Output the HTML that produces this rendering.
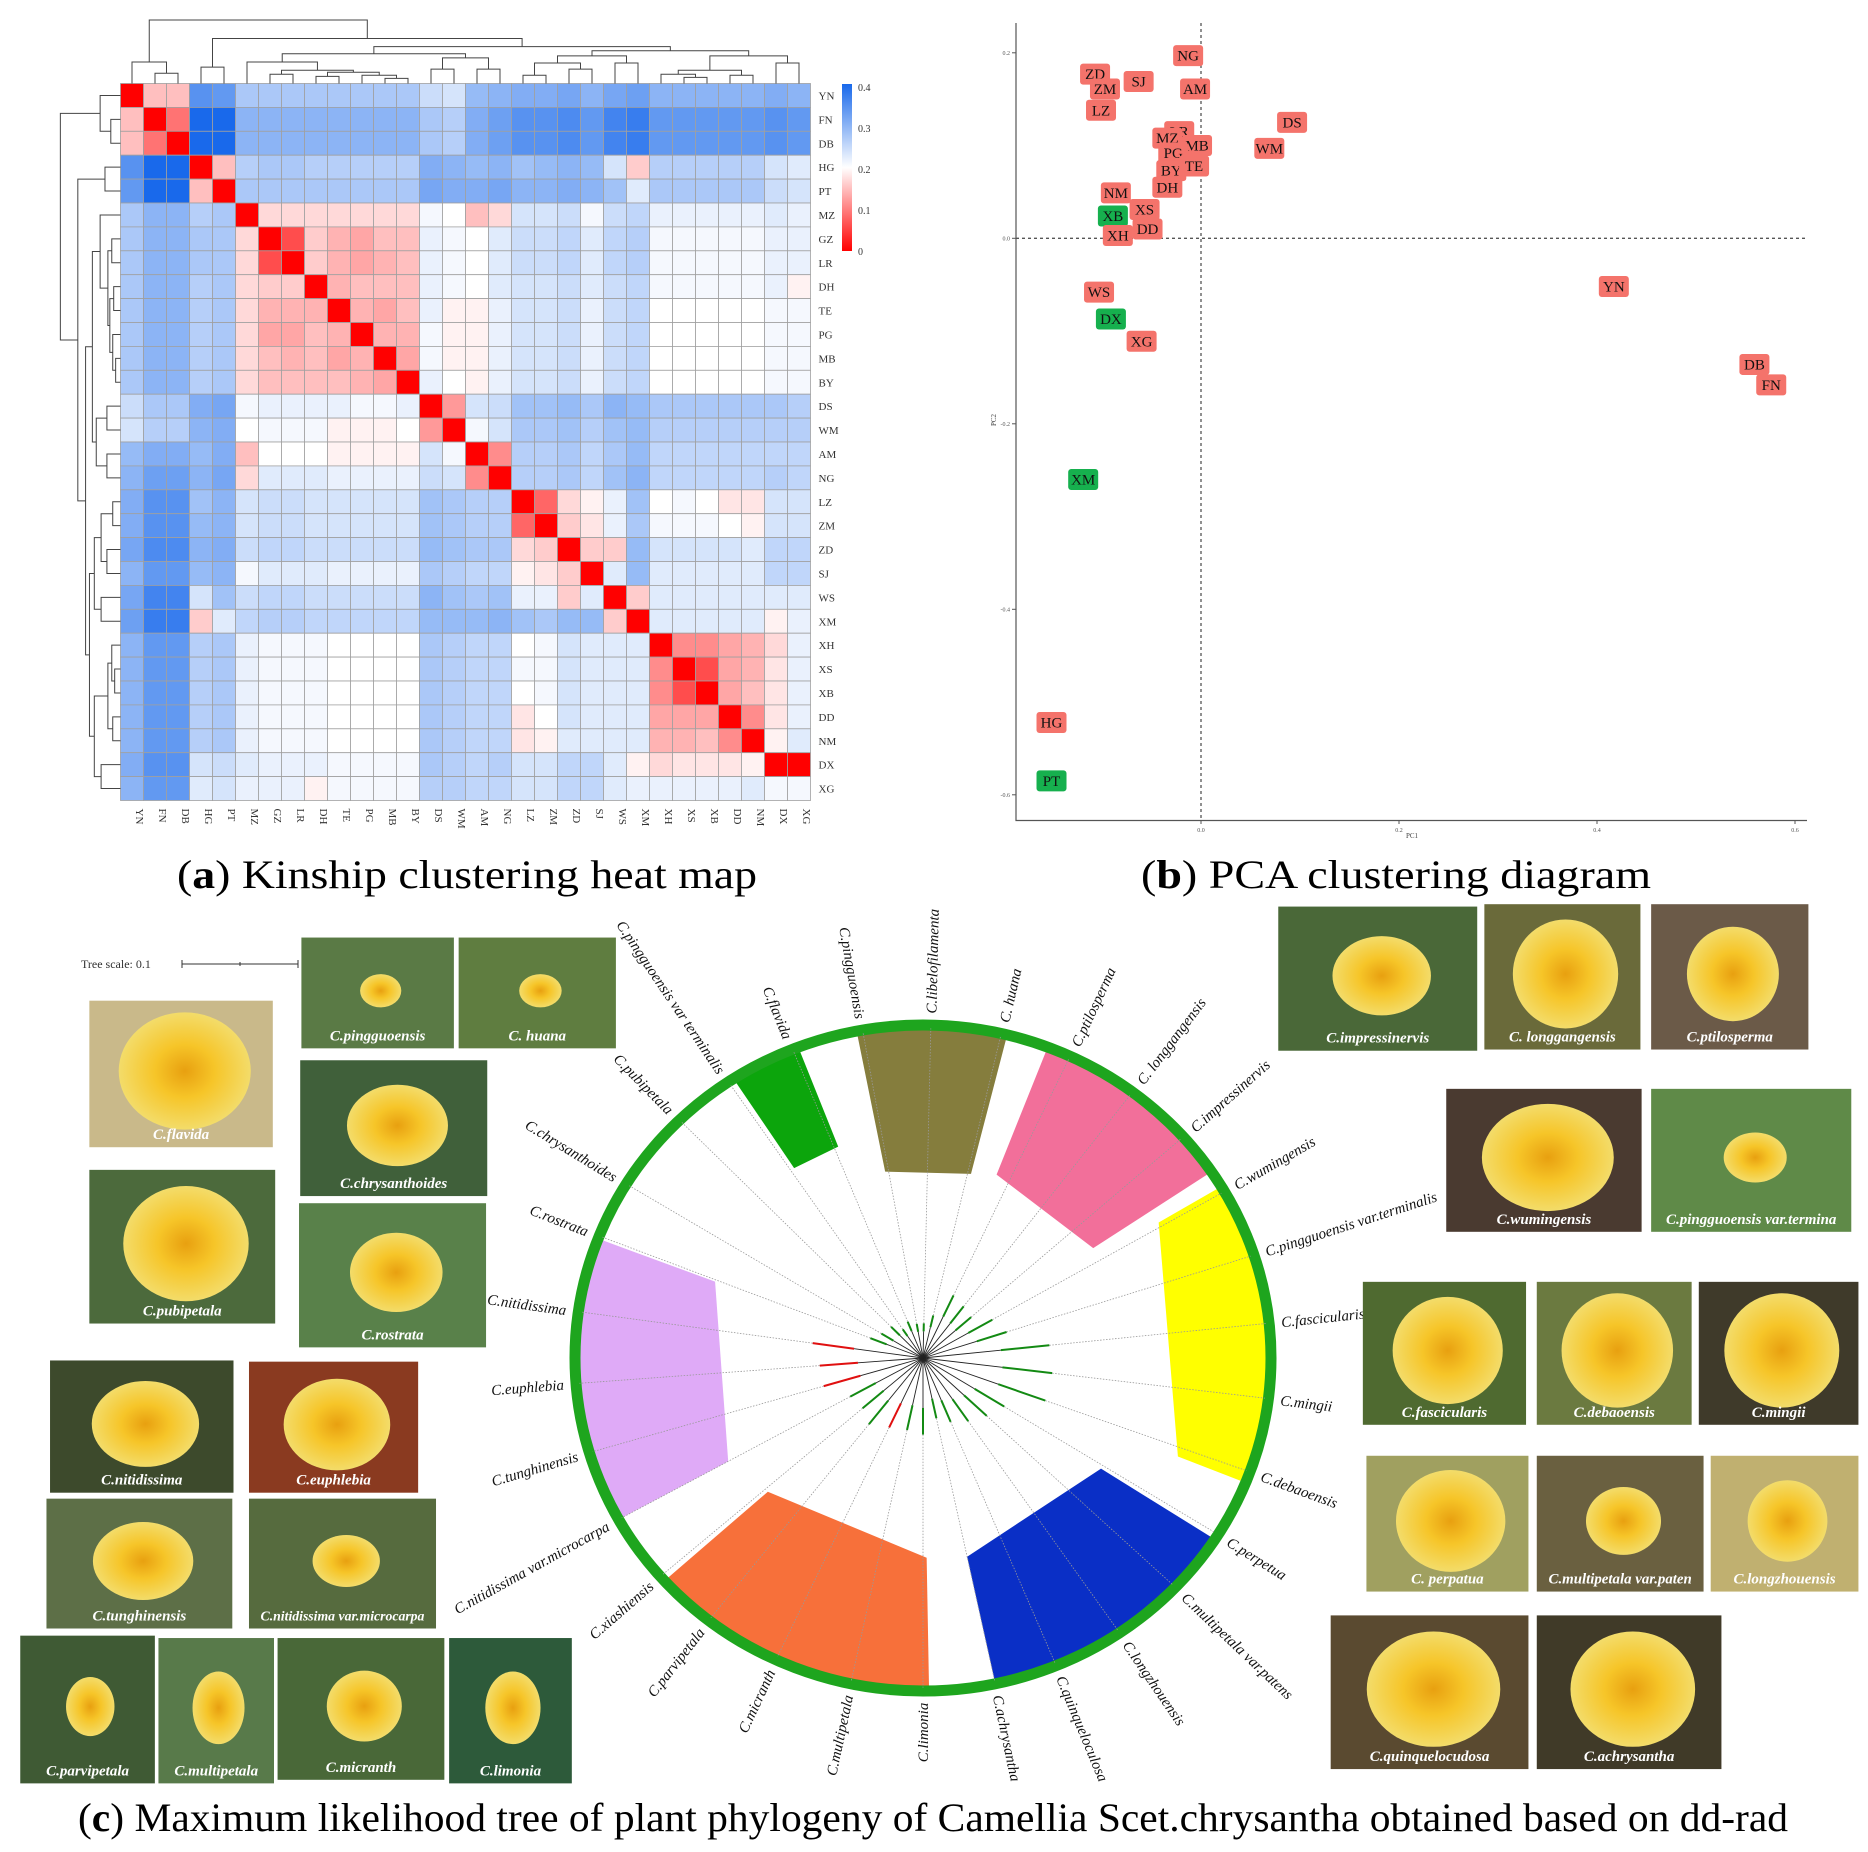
<!DOCTYPE html>
<html><head><meta charset="utf-8">
<style>
html,body{margin:0;padding:0;background:#fff;}
svg{display:block;}
text{font-family:"Liberation Serif",serif;}
</style></head>
<body>
<svg id="fig" width="1868" height="1852" viewBox="0 0 1868 1852" xmlns="http://www.w3.org/2000/svg">
<defs>
<linearGradient id="legGrad" x1="0" y1="1" x2="0" y2="0">
<stop offset="0" stop-color="#ff0000"/><stop offset="0.5" stop-color="#ffffff"/><stop offset="1" stop-color="#1969eb"/>
</linearGradient>
<radialGradient id="flowerG" cx="0.5" cy="0.5" r="0.5">
<stop offset="0" stop-color="#e8a010"/><stop offset="0.45" stop-color="#f6c528"/><stop offset="1" stop-color="#f3dc6a"/>
</radialGradient>
</defs>
<g id="heatmap"></g>
<g id="pca"></g>
<g id="tree"></g>
<g id="photos"></g>
<text x="467" y="888" font-size="40" text-anchor="middle" textLength="580" lengthAdjust="spacingAndGlyphs">(<tspan font-weight="bold">a</tspan>) Kinship clustering heat map</text>
<text x="1396" y="888" font-size="40" text-anchor="middle" textLength="510" lengthAdjust="spacingAndGlyphs">(<tspan font-weight="bold">b</tspan>) PCA clustering diagram</text>
<text x="933" y="1831" font-size="40" text-anchor="middle" textLength="1710" lengthAdjust="spacingAndGlyphs">(<tspan font-weight="bold">c</tspan>) Maximum likelihood tree of plant phylogeny of Camellia Scet.chrysantha obtained based on dd-rad</text>
</svg>
<script>
var NS="http://www.w3.org/2000/svg";
function mk(tag,attrs,parent){var e=document.createElementNS(NS,tag);for(var k in attrs)e.setAttribute(k,attrs[k]);parent.appendChild(e);return e;}

/* ================= HEATMAP DATA ================= */
var samples=["YN","FN","DB","HG","PT","MZ","GZ","LR","DH","TE","PG","MB","BY","DS","WM","AM","NG","LZ","ZM","ZD","SJ","WS","XM","XH","XS","XB","DD","NM","DX","XG"];
var kinUpper=[
[0,.15,.15,.36,.35,.28,.28,.28,.28,.28,.28,.28,.28,.25,.24,.3,.31,.32,.32,.33,.31,.33,.34,.31,.31,.31,.31,.31,.32,.31],
[0,.09,.42,.42,.31,.31,.31,.31,.31,.31,.31,.31,.28,.27,.32,.34,.36,.36,.37,.35,.38,.39,.35,.35,.35,.35,.35,.36,.35],
[0,.42,.42,.31,.31,.31,.31,.31,.31,.31,.31,.28,.27,.32,.34,.36,.36,.37,.35,.38,.39,.35,.35,.35,.35,.35,.36,.35],
[0,.15,.27,.28,.28,.27,.27,.27,.27,.27,.32,.31,.3,.31,.29,.3,.31,.3,.24,.16,.27,.27,.27,.27,.27,.24,.23],
[0,.28,.28,.28,.28,.28,.28,.28,.28,.33,.32,.32,.33,.31,.31,.32,.31,.29,.23,.28,.28,.28,.28,.28,.25,.24],
[0,.17,.17,.17,.17,.17,.17,.17,.21,.2,.15,.17,.24,.24,.25,.21,.25,.26,.22,.22,.22,.22,.22,.23,.22],
[0,.06,.16,.14,.13,.15,.15,.22,.21,.2,.23,.25,.25,.26,.23,.26,.27,.21,.21,.21,.21,.21,.22,.22],
[0,.16,.14,.13,.14,.15,.22,.21,.2,.23,.25,.25,.26,.23,.26,.27,.21,.21,.21,.21,.21,.22,.22],
[0,.14,.15,.15,.15,.22,.21,.2,.23,.24,.24,.25,.23,.25,.26,.21,.21,.21,.21,.21,.22,.19],
[0,.14,.13,.15,.22,.19,.19,.22,.24,.24,.25,.22,.25,.26,.2,.2,.2,.2,.2,.21,.21],
[0,.14,.14,.21,.19,.19,.22,.24,.24,.25,.22,.25,.26,.2,.2,.2,.2,.2,.21,.21],
[0,.13,.21,.19,.19,.22,.24,.24,.25,.22,.25,.26,.2,.2,.2,.2,.2,.21,.21],
[0,.22,.2,.19,.22,.24,.24,.25,.22,.25,.26,.2,.2,.2,.2,.2,.21,.21],
[0,.12,.24,.25,.29,.29,.3,.28,.31,.3,.28,.28,.28,.28,.28,.28,.27],
[0,.21,.24,.28,.28,.29,.27,.29,.3,.27,.27,.27,.27,.27,.27,.27],
[0,.11,.27,.27,.28,.26,.28,.3,.26,.26,.26,.26,.26,.26,.26],
[0,.27,.27,.28,.26,.29,.31,.26,.26,.26,.26,.26,.27,.26],
[0,.08,.17,.19,.22,.29,.2,.21,.2,.18,.18,.24,.24],
[0,.16,.18,.22,.28,.21,.21,.21,.2,.19,.24,.24],
[0,.16,.16,.3,.24,.24,.24,.24,.23,.26,.26],
[0,.23,.3,.23,.23,.23,.23,.23,.26,.26],
[0,.16,.23,.23,.23,.23,.23,.23,.23],
[0,.23,.23,.23,.23,.23,.19,.22],
[0,.11,.11,.13,.14,.17,.22],
[0,.06,.13,.14,.18,.22],
[0,.13,.15,.18,.22],
[0,.11,.18,.22],
[0,.19,.23],
[0,0],
[.21]
];
var kinAsymRow=[29], kinAsymCol=[28], kinAsymVal=[.21];
var legendTicks=[0,0.1,0.2,0.3,0.4];
var dendroMid=[[5,[[6,7,78],[[8,9,80],[10,[11,12,82],79],76],74],66],[[13,14,73],[15,16,73],62],58];
var dendroRight=[[[[17,18,79],[19,20,73],67],[21,22,67],60],[[[23,[24,25,81],78],[26,27,79],74],[28,29,67],60],55];
var dendro=[[0,[1,2,77],66],[[3,4,71],[dendroMid,dendroRight,51],43],25];

try{(function(){
  var g=document.getElementById('heatmap');
  var x0=120.5,y0=83.5,cw=23.0,ch=23.9,N=samples.length;
  function val(i,j){
    for(var a=0;a<kinAsymRow.length;a++) if(kinAsymRow[a]===i&&kinAsymCol[a]===j) return kinAsymVal[a];
    return i<=j?kinUpper[i][j-i]:kinUpper[j][i-j];
  }
  function col(v){
    var r,gg,b;
    if(v<=0.2){var t=Math.max(0,v/0.2);r=255;gg=Math.round(255*t);b=Math.round(255*t);}
    else{var t2=Math.min(1,(v-0.2)/0.22);r=Math.round(255+(25-255)*t2);gg=Math.round(255+(105-255)*t2);b=Math.round(255+(235-255)*t2);}
    return 'rgb('+r+','+gg+','+b+')';
  }
  for(var i=0;i<N;i++)for(var j=0;j<N;j++){
    var c=mk('rect',{x:x0+j*cw,y:y0+i*ch,width:cw,height:ch,fill:col(val(i,j)),stroke:'#a0a0a0','stroke-width':0.8},g);
    
    
  }
  for(var k=0;k<N;k++){
    var t=mk('text',{x:x0+N*cw+8,y:y0+k*ch+ch/2+4,'font-size':11,fill:'#333'},g);t.textContent=samples[k];
    
    
    var cx=x0+k*cw+cw/2, yy=y0+N*ch+8;
    var t2=mk('text',{x:cx,y:yy,'font-size':11,fill:'#333',transform:'rotate(90 '+cx+' '+yy+')',dy:'-0.35em'},g);t2.textContent=samples[k];
    
    
  }
  var lg=mk('rect',{x:842,y:84,width:10,height:167,fill:'url(#legGrad)'},g);
  
  
  legendTicks.forEach(function(v){
    var y=251-v/0.4*164;
    var t=mk('text',{x:858,y:y+4,'font-size':10,fill:'#333','font-family':'Liberation Sans, sans-serif'},g);t.textContent=v===0?'0':String(v);
    
    
  });
  function draw(node,top){
    if(typeof node==='number') return {p:node,h:87};
    var a=draw(node[0],top),b=draw(node[1],top),h=node[2];
    if(top){
      var pa=x0+a.p*cw+cw/2, pb=x0+b.p*cw+cw/2;
      var ya=y0-(87-a.h)*1.024, yb=y0-(87-b.h)*1.024, yh=y0-(87-h)*1.024;
      mk('path',{d:'M'+pa+' '+ya+'V'+yh+'H'+pb+'V'+yb,fill:'none',stroke:'#444','stroke-width':1},g);
    }else{
      var qa=y0+a.p*ch+ch/2, qb=y0+b.p*ch+ch/2;
      var xa=x0-(87-a.h)*0.97, xb=x0-(87-b.h)*0.97, xh=x0-(87-h)*0.97;
      mk('path',{d:'M'+xa+' '+qa+'H'+xh+'V'+qb+'H'+xb,fill:'none',stroke:'#444','stroke-width':1},g);
    }
    return {p:(a.p+b.p)/2,h:h};
  }
  draw(dendro,true);draw(dendro,false);
})();}catch(e){}

/* ================= PCA DATA ================= */
var pcaLabels=["NG","ZD","SJ","ZM","AM","LZ","DS","LR","MZ","MB","WM","PG","BY","TE","DH","NM","XS","XB","DD","XH","WS","DX","XG","YN","DB","FN","XM","HG","PT"];
var pc1=[-0.013,-0.107,-0.063,-0.097,-0.006,-0.101,0.092,-0.022,-0.034,-0.004,0.069,-0.028,-0.030,-0.007,-0.034,-0.086,-0.057,-0.089,-0.054,-0.084,-0.103,-0.091,-0.060,0.417,0.559,0.576,-0.119,-0.151,-0.151];
var pc2=[0.197,0.177,0.169,0.161,0.161,0.138,0.125,0.115,0.108,0.100,0.097,0.092,0.073,0.078,0.055,0.049,0.031,0.024,0.010,0.003,-0.058,-0.087,-0.111,-0.052,-0.136,-0.158,-0.260,-0.522,-0.585];
var pcaGroup=["r","r","r","r","r","r","r","r","r","r","r","r","r","r","r","r","r","g","r","r","r","g","r","r","r","r","g","r","g"];
var xTicks=[0.0,0.2,0.4,0.6];
var yTicks=[0.2,0.0,-0.2,-0.4,-0.6];

try{(function(){
  var g=document.getElementById('pca');
  function X(v){return 1201+v*990;} function Y(v){return 238.3-v*927.5;}
  var ax=mk('path',{d:'M1016 23V820.5H1807',fill:'none',stroke:'#555','stroke-width':1.2},g);
  
  
  mk('line',{x1:X(0),y1:23,x2:X(0),y2:820,stroke:'#555','stroke-width':1.3,'stroke-dasharray':'3,3'},g);
  mk('line',{x1:1016,y1:Y(0),x2:1807,y2:Y(0),stroke:'#555','stroke-width':1.3,'stroke-dasharray':'3,3'},g);
  xTicks.forEach(function(v){mk('line',{x1:X(v),y1:820.5,x2:X(v),y2:824,stroke:'#555'},g);
    var t=mk('text',{x:X(v),y:832,'font-size':6,'text-anchor':'middle',fill:'#555','font-family':'Liberation Sans, sans-serif'},g);t.textContent=v.toFixed(1);
    
    });
  yTicks.forEach(function(v){mk('line',{x1:1012,y1:Y(v),x2:1016,y2:Y(v),stroke:'#555'},g);
    var t=mk('text',{x:1010,y:Y(v)+2,'font-size':6,'text-anchor':'end',fill:'#555','font-family':'Liberation Sans, sans-serif'},g);t.textContent=v.toFixed(1);
    
    });
  var xt=mk('text',{x:1412,y:838,'font-size':7,'text-anchor':'middle',fill:'#444','font-family':'Liberation Sans, sans-serif'},g);xt.textContent='PC1';
  
  
  var yt=mk('text',{x:996,y:420,'font-size':7,'text-anchor':'middle',fill:'#444',transform:'rotate(-90 996 420)','font-family':'Liberation Sans, sans-serif'},g);yt.textContent='PC2';
  
  
  for(var i=0;i<pcaLabels.length;i++){
    var cx=X(pc1[i]),cy=Y(pc2[i]);
    var r=mk('rect',{x:cx-15,y:cy-10.5,width:30,height:21,rx:3,fill:pcaGroup[i]==='g'?'#16b04e':'#f4736b'},g);
    
    
    var t=mk('text',{x:cx,y:cy+5,'font-size':15,'text-anchor':'middle',fill:'#111'},g);t.textContent=pcaLabels[i];
    
    
  }
})();}catch(e){}

/* ================= TREE ================= */
var leaves=["C.libelofilamenta","C. huana","C.ptilosperma","C. longgangensis","C.impressinervis","C.wumingensis","C.pingguoensis var.terminalis","C.fascicularis","C.mingii","C.debaoensis","C.perpetua","C.multipetala var.patens","C.longzhouensis","C.quinqueloculosa","C.achrysantha","C.limonia","C.multipetala","C.micranth","C.parvipetala","C.xiashiensis","C.nitidissima var.microcarpa","C.tunghinensis","C.euphlebia","C.nitidissima","C.rostrata","C.chrysanthoides","C.pubipetala","C.pingguoensis var terminalis","C.flavida","C.pingguoensis"];
var leafAngle=[-88.7,-77,-65,-53,-41.6,-30,-18,-6,7,20,32,43.5,55.6,67.5,78,90,102,115,128,139,151,163.5,175.6,188,201.5,211.5,225.6,236,248,260];
var branchLen=[0.12,0.18,0.35,0.32,0.3,0.4,0.45,0.7,0.72,0.72,0.5,0.45,0.4,0.35,0.3,0.4,0.38,0.4,0.45,0.4,0.42,0.55,0.55,0.6,0.25,0.2,0.18,0.12,0.15,0.12];
var branchCol=["g","g","g","g","g","g","g","g","g","g","g","g","g","g","g","g","g","r","g","g","g","r","r","r","g","g","g","g","g","g"];
var cladeNames=["olive","green","pink","yellow","blue","orange","purple"];
var cladeStart=[-101,-123,-69,-31,33,89,151];
var cladeEnd=[-76,-111,-34,22,78,138,201];
var cladeInner=[0.57,0.68,0.59,0.79,0.61,0.6,0.64];
var cladeColor=["#857d3d","#0ca50c","#f26f9a","#ffff00","#0a2fc6","#f7703a","#dfaaf7"];

try{(function(){
  var g=document.getElementById('tree');
  var CX=923,CY=1358,RX=348,RY=333;
  function P(a,r){var t=a*Math.PI/180;return [CX+Math.cos(t)*r*RX,CY+Math.sin(t)*r*RY];}
  for(var c=0;c<cladeNames.length;c++){
    var a0=cladeStart[c],a1=cladeEnd[c],ri=cladeInner[c],d='';
    var p0=P(a0,1);d+='M'+p0[0]+' '+p0[1];
    for(var a=a0;a<=a1;a+=1){var p=P(a,1);d+='L'+p[0]+' '+p[1];}
    var q1=P(a1,1);d+='L'+q1[0]+' '+q1[1];
    var q2=P(a1,ri);d+='L'+q2[0]+' '+q2[1];
    var q3=P(a0,ri);d+='L'+q3[0]+' '+q3[1]+'Z';
    var s=mk('path',{d:d,fill:cladeColor[c]},g);
    
    
  }
  var ring=mk('ellipse',{cx:CX,cy:CY,rx:RX,ry:RY,fill:'none',stroke:'#1ea51e','stroke-width':11},g);
  
  
  for(var i=0;i<leaves.length;i++){
    var th=leafAngle[i];
    var a=P(th,0.05+branchLen[i]*0.45),b=P(th,0.99);
    mk('line',{x1:a[0],y1:a[1],x2:b[0],y2:b[1],stroke:'#999','stroke-width':0.8,'stroke-dasharray':'1.5,1.5'},g);
    var s0=P(th,0.05+branchLen[i]*0.25),s1=P(th,0.05+branchLen[i]*0.45);
    var br=mk('line',{x1:s0[0],y1:s0[1],x2:s1[0],y2:s1[1],stroke:branchCol[i]==='r'?'#e01010':'#138a13','stroke-width':2},g);
    
    
    mk('line',{x1:CX,y1:CY,x2:s0[0],y2:s0[1],stroke:'#222','stroke-width':0.9},g);
    var lp=P(th,1.035),normal=(th>-95&&th<85);
    var rot=normal?th:th+180;
    var t=mk('text',{x:lp[0],y:lp[1],'font-size':15,'font-style':'italic','text-anchor':normal?'start':'end',dy:'0.35em',fill:'#111',transform:'rotate('+rot+' '+lp[0]+' '+lp[1]+')'},g);
    t.textContent=leaves[i];
    
    
  }
  var ts=mk('text',{x:81,y:968,'font-size':12,fill:'#333','font-family':'Liberation Sans, sans-serif'},g);ts.textContent='Tree scale: 0.1';
  
  
  mk('path',{d:'M182 960V968M182 964H298M298 960V968M240 962V966',stroke:'#333','stroke-width':1,fill:'none'},g);
})();}catch(e){}

/* ================= PHOTOS ================= */
var photoLabels=["C.pingguoensis","C. huana","C.flavida","C.chrysanthoides","C.pubipetala","C.rostrata","C.nitidissima","C.euphlebia","C.tunghinensis","C.nitidissima var.microcarpa","C.parvipetala","C.multipetala","C.micranth","C.limonia","C.impressinervis","C. longgangensis","C.ptilosperma","C.wumingensis","C.pingguoensis var.termina","C.fascicularis","C.debaoensis","C.mingii","C. perpatua","C.multipetala var.paten","C.longzhouensis","C.quinquelocudosa","C.achrysantha"];
var photoBoxes=[[253,787,381,880],[385,787,517,880],[75,840,229,963],[252,890,409,1004],[75,982,231,1111],[251,1010,408,1131],[42,1142,196,1253],[209,1143,351,1253],[39,1258,195,1367],[209,1258,366,1367],[17,1373,130,1497],[133,1375,230,1497],[233,1375,373,1494],[377,1375,480,1497],[1073,761,1240,882],[1246,759,1377,881],[1386,759,1518,881],[1214,914,1378,1034],[1386,914,1554,1034],[1144,1076,1281,1196],[1290,1076,1420,1196],[1426,1076,1560,1196],[1147,1222,1283,1336],[1290,1222,1430,1336],[1436,1222,1560,1336],[1117,1356,1283,1485],[1290,1356,1445,1485]];
var photoBg=["#5a7a45","#5f7d40","#c9b98a","#40603a","#4c6a3c","#59814a","#3d4a2c","#8a3a20","#5d6f47","#566b3e","#3f5a34","#587a4a","#496838","#2d5a3a","#4a6838","#6a6a3a","#6b5a48","#4a3a30","#5f8a48","#4f6a30","#6b7a40","#3f3a2a","#a0a060","#6a6040","#c0b070","#5a4a30","#403a28"];
var photoFlower=[0.3,0.3,0.8,0.6,0.75,0.55,0.65,0.7,0.6,0.4,0.4,0.5,0.5,0.5,0.55,0.75,0.65,0.75,0.35,0.75,0.8,0.8,0.75,0.5,0.6,0.75,0.75];
try{(function(){
  var g=document.getElementById('photos'),S=1.1913;
  for(var i=0;i<photoLabels.length;i++){
    var b=photoBoxes[i],x=b[0]*S,y=b[1]*S,w=(b[2]-b[0])*S,h=(b[3]-b[1])*S;
    var r=mk('rect',{x:x,y:y,width:w,height:h,fill:photoBg[i]},g);
    
    
    var fs=photoFlower[i];
    mk('ellipse',{cx:x+w*0.52,cy:y+h*0.48,rx:w*fs*0.45,ry:h*fs*0.5,fill:'url(#flowerG)'},g);
    var fsz=Math.min(15,(w-6)/(photoLabels[i].length*0.47));
    var t=mk('text',{x:x+w*0.5,y:y+h-8,'font-size':fsz,'font-style':'italic','font-weight':'bold','text-anchor':'middle',fill:'#fff'},g);
    t.textContent=photoLabels[i];
    
    
  }
})();}catch(e){}
</script>
</body></html>
